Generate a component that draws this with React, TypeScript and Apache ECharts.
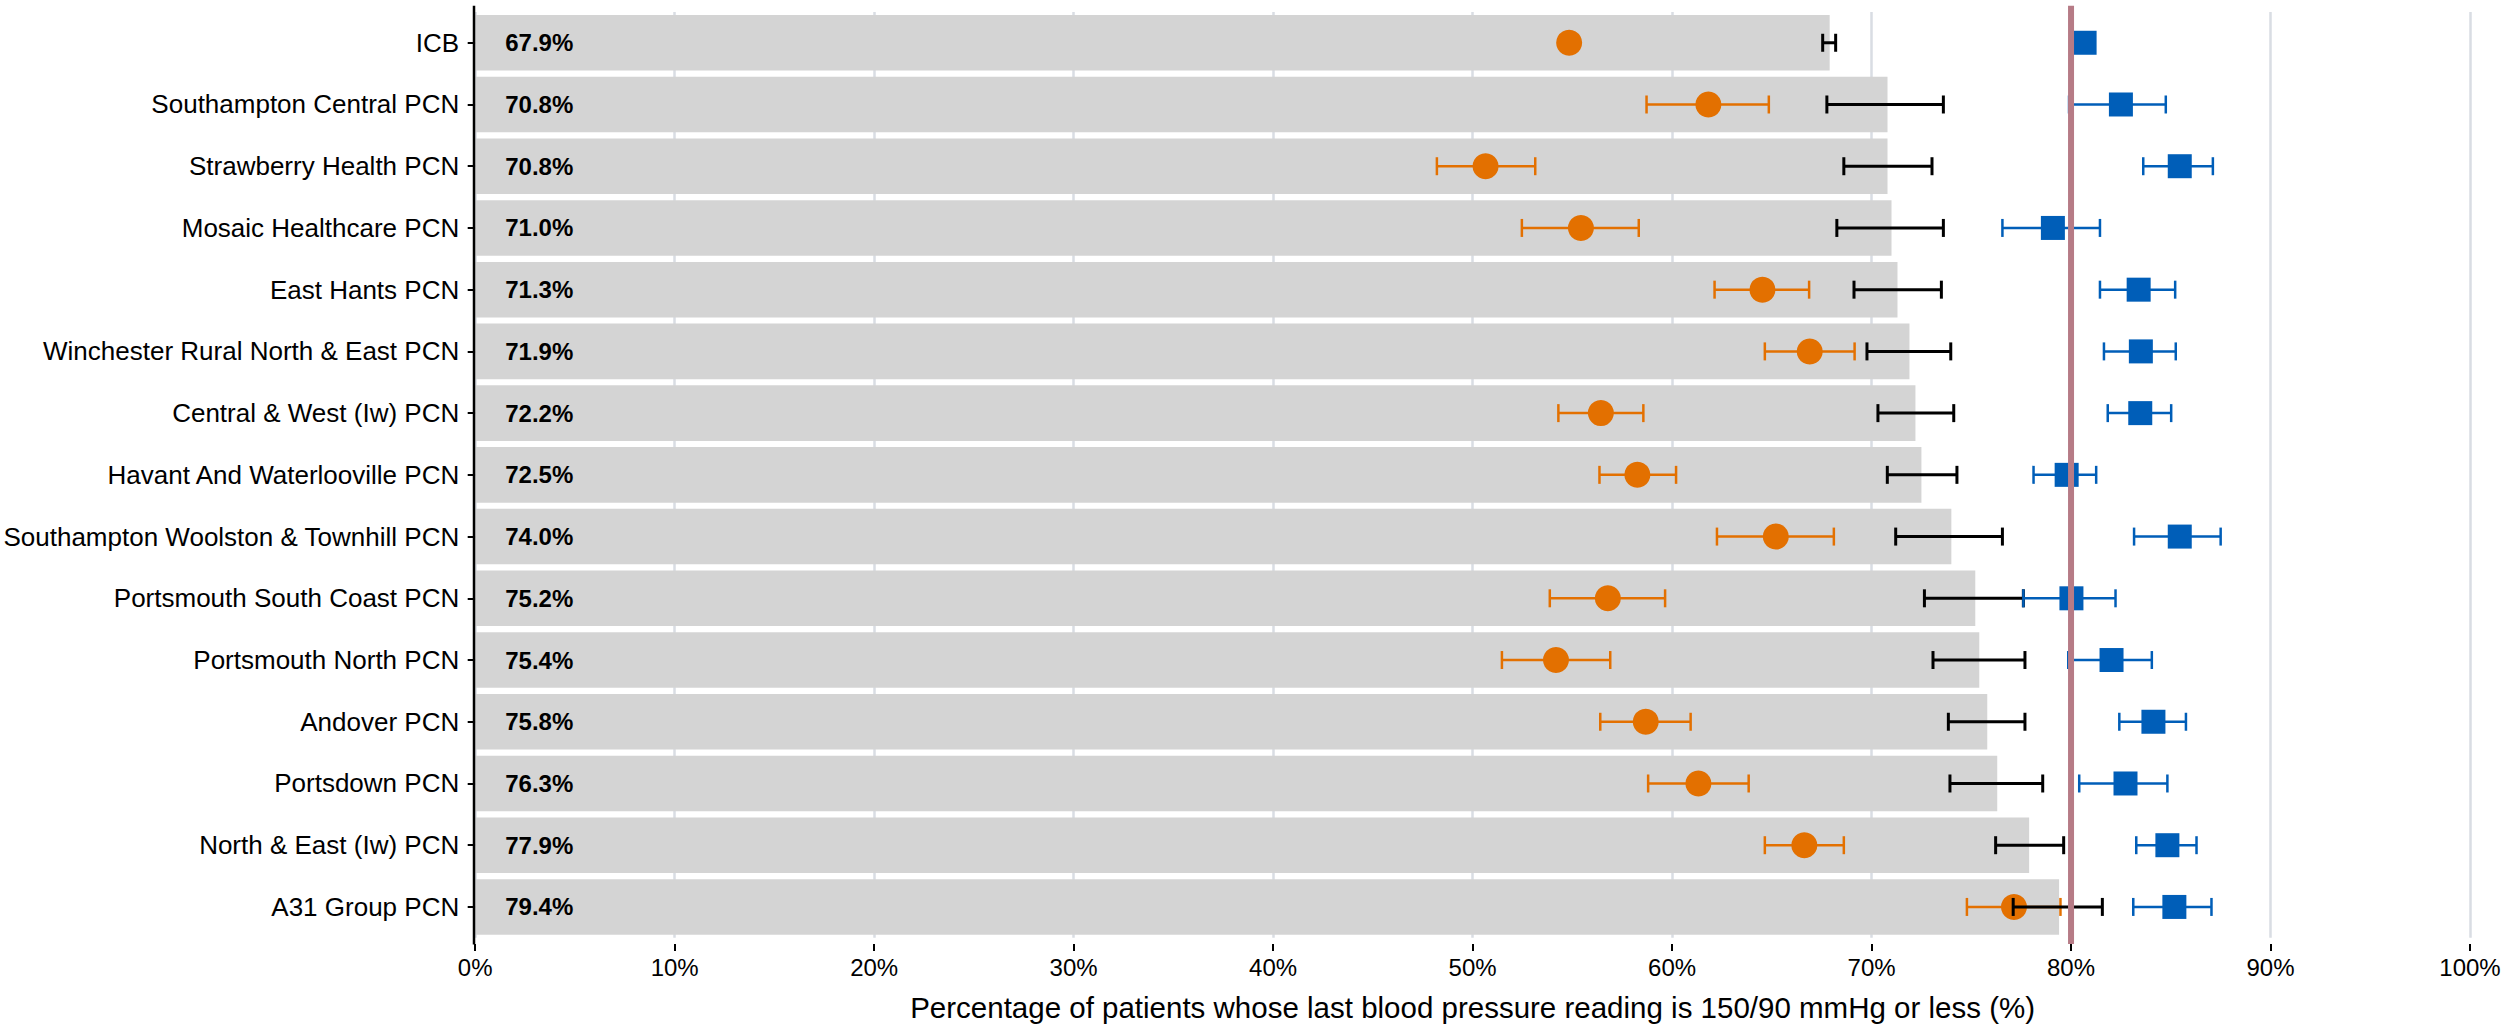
import React, { useEffect, useRef } from "react";
import * as echarts from "echarts";

const categories = [
  "ICB",
  "Southampton Central PCN",
  "Strawberry Health PCN",
  "Mosaic Healthcare PCN",
  "East Hants PCN",
  "Winchester Rural North & East PCN",
  "Central & West (Iw) PCN",
  "Havant And Waterlooville PCN",
  "Southampton Woolston & Townhill PCN",
  "Portsmouth South Coast PCN",
  "Portsmouth North PCN",
  "Andover PCN",
  "Portsdown PCN",
  "North & East (Iw) PCN",
  "A31 Group PCN",
];

// grey bars (overall value) with black confidence interval
const barValues = [67.9, 70.8, 70.8, 71.0, 71.3, 71.9, 72.2, 72.5, 74.0, 75.2, 75.4, 75.8, 76.3, 77.9, 79.4];
const barLow = [67.55, 67.76, 68.61, 68.26, 69.12, 69.77, 70.32, 70.79, 71.21, 72.65, 73.08, 73.85, 73.93, 76.22, 77.1];
const barHigh = [68.2, 73.6, 73.03, 73.6, 73.5, 73.97, 74.12, 74.28, 76.56, 77.61, 77.69, 77.69, 78.58, 79.63, 81.57];

// orange circles with confidence interval
const orangeValues = [54.84, 61.82, 50.65, 55.43, 64.53, 66.9, 56.43, 58.26, 65.2, 56.78, 54.18, 58.68, 61.32, 66.63, 77.14];
const orangeLow = [54.6, 58.72, 48.21, 52.47, 62.13, 64.65, 54.3, 56.36, 62.25, 53.87, 51.47, 56.4, 58.8, 64.65, 74.78];
const orangeHigh = [55.1, 64.85, 53.14, 58.33, 66.87, 69.15, 58.56, 60.2, 68.11, 59.65, 56.9, 60.93, 63.84, 68.61, 79.47];

// blue squares with confidence interval
const blueValues = [80.68, 82.5, 85.45, 79.09, 83.39, 83.5, 83.47, 79.78, 85.45, 80.02, 82.03, 84.13, 82.73, 84.83, 85.18];
const blueLow = [80.55, 79.9, 83.62, 76.56, 81.45, 81.65, 81.84, 78.12, 83.16, 77.61, 79.86, 82.42, 80.41, 83.27, 83.12];
const blueHigh = [80.8, 84.75, 87.11, 81.45, 85.22, 85.25, 85.02, 81.26, 87.5, 82.23, 84.05, 85.76, 84.83, 86.29, 87.04];

const targetValue = [80];
const xTicks = { min: 0, max: 100, interval: 10 };
const xTitle = "Percentage of patients whose last blood pressure reading is 150/90 mmHg or less (%)";

const ORANGE = "#e37000";
const BLUE = "#005eb8";
const RED = "#b67b86";
const FONT = "Liberation Sans, Arial, sans-serif";

function errorBarSeries(name: string, low: number[], high: number[], color: string, width: number, z: number) {
  return {
    name,
    type: "custom",
    z,
    data: low.map((l, i) => [l, high[i], i]),
    encode: { x: [0, 1], y: 2 },
    renderItem: (params: any, api: any) => {
      const lo = api.coord([api.value(0), api.value(2)]);
      const hi = api.coord([api.value(1), api.value(2)]);
      const cap = 9;
      const style = { stroke: color, lineWidth: width };
      return {
        type: "group",
        children: [
          { type: "line", shape: { x1: lo[0], y1: lo[1], x2: hi[0], y2: hi[1] }, style },
          { type: "line", shape: { x1: lo[0], y1: lo[1] - cap, x2: lo[0], y2: lo[1] + cap }, style },
          { type: "line", shape: { x1: hi[0], y1: hi[1] - cap, x2: hi[0], y2: hi[1] + cap }, style },
        ],
      };
    },
  };
}

export default function App() {
  const ref = useRef<HTMLDivElement>(null);
  useEffect(() => {
    if (!ref.current) return;
    const chart = echarts.init(ref.current, null, { renderer: "svg" });
    const gridLeft = 474;
    const gridTop = 11.9;
    const gridWidth = 1996;
    const gridHeight = 926.4;
    const pad = 6.2; // ggplot-style expansion beyond the category bands
    chart.setOption({
      animation: false,
      backgroundColor: "#ffffff",
      textStyle: { fontFamily: FONT },
      grid: { left: gridLeft, top: gridTop, width: gridWidth, height: gridHeight, containLabel: false },
      xAxis: {
        type: "value",
        min: xTicks.min,
        max: xTicks.max,
        interval: xTicks.interval,
        offset: pad,
        axisLine: { show: false },
        axisTick: { show: true, length: 7, lineStyle: { color: "#000", width: 2 } },
        axisLabel: { formatter: "{value}%", fontSize: 24, color: "#000", margin: 11, fontFamily: FONT },
        splitLine: { show: true, lineStyle: { color: "#d9dde3", width: 2.5 } },
        name: xTitle,
        nameLocation: "middle",
        nameGap: 48,
        nameTextStyle: { fontSize: 29.5, color: "#000", fontFamily: FONT },
      },
      yAxis: {
        type: "category",
        inverse: true,
        data: categories,
        axisLine: { show: false },
        axisTick: { show: true, alignWithLabel: true, length: 7.5, lineStyle: { color: "#000", width: 2 } },
        axisLabel: { fontSize: 26, color: "#000", margin: 16, fontFamily: FONT },
        splitLine: { show: false },
      },
      graphic: [
        {
          type: "line",
          shape: { x1: gridLeft, y1: gridTop - pad, x2: gridLeft, y2: gridTop + gridHeight + pad },
          style: { stroke: "#000", lineWidth: 2.5 },
          z: 20,
        },
      ],
      series: [
        {
          name: "Overall",
          type: "bar",
          data: barValues,
          barWidth: "90%",
          itemStyle: { color: "#d4d4d4" },
          z: 1,
          label: {
            show: true,
            position: "insideLeft",
            distance: 30,
            formatter: (p: any) => p.value.toFixed(1) + "%",
            fontSize: 24,
            fontWeight: "bold",
            color: "#000",
            fontFamily: FONT,
          },
        },
        errorBarSeries("Orange CI", orangeLow, orangeHigh, ORANGE, 2.5, 3),
        {
          name: "Orange",
          type: "scatter",
          z: 4,
          symbol: "circle",
          symbolSize: 26,
          data: orangeValues.map((v, i) => [v, i]),
          itemStyle: { color: ORANGE, opacity: 1 },
        },
        errorBarSeries("Overall CI", barLow, barHigh, "#000", 3, 5),
        errorBarSeries("Blue CI", blueLow, blueHigh, BLUE, 2.5, 6),
        {
          name: "Blue",
          type: "scatter",
          z: 7,
          symbol: "rect",
          symbolSize: 24,
          data: blueValues.map((v, i) => [v, i]),
          itemStyle: { color: BLUE, opacity: 1 },
        },
        {
          name: "Target",
          type: "custom",
          z: 8,
          data: targetValue.map((v) => [v, 0]),
          encode: { x: 0, y: 1 },
          renderItem: (params: any, api: any) => {
            const p = api.coord([api.value(0), 0]);
            const cs = params.coordSys;
            return {
              type: "line",
              shape: { x1: p[0], y1: cs.y - pad, x2: p[0], y2: cs.y + cs.height + pad },
              style: { stroke: RED, lineWidth: 6 },
            };
          },
        },
      ],
    });
    return () => chart.dispose();
  }, []);
  return (
    <div
      ref={ref}
      style={{ position: "absolute", left: 0, top: 0, width: "2514px", height: "1027px", background: "#fff" }}
    />
  );
}
